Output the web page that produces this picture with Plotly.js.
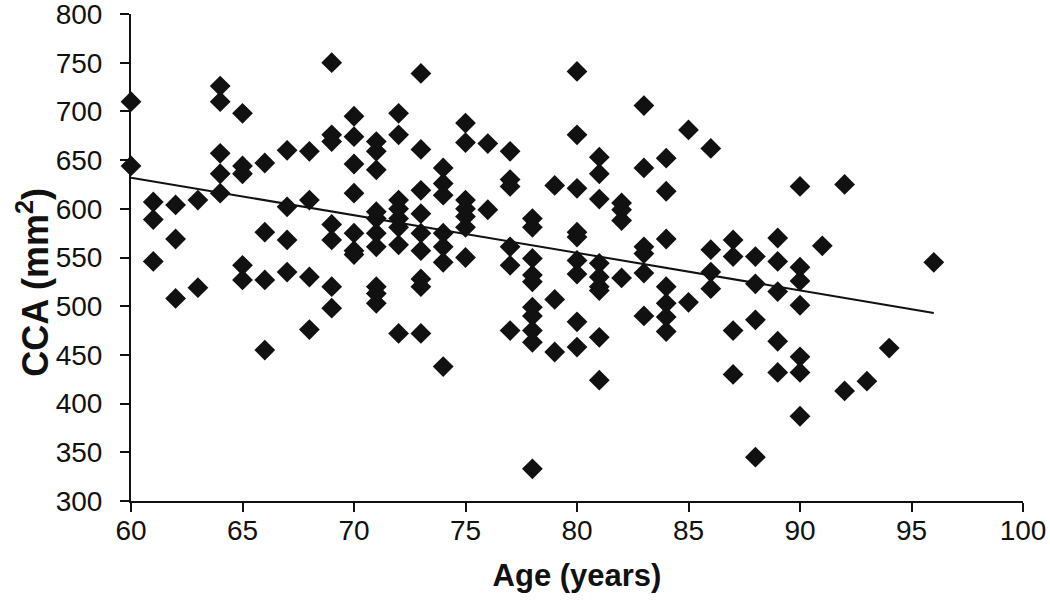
<!DOCTYPE html>
<html>
<head>
<meta charset="utf-8">
<script src="https://cdn.plot.ly/plotly-3.0.1.min.js"></script>
<style>
  body { margin: 0; background: #fff; }
  #chart { width: 1050px; height: 602px; }
</style>
</head>
<body>
<div id="chart"></div>
<script>
// CCA values, grouped by age (years)
const ages = [60, 61, 62, 63, 64, 65, 66, 67, 68, 69, 70, 71, 72, 73, 74, 75, 76, 77, 78, 79,
              80, 81, 82, 83, 84, 85, 86, 87, 88, 89, 90, 91, 92, 93, 94, 96];
const ccaByAge = [
    [710, 644],
    [607, 589, 546],
    [604, 569, 508],
    [609, 519],
    [726, 710, 657, 636, 616],
    [698, 644, 636, 542, 527],
    [647, 576, 527, 455],
    [660, 602, 568, 535],
    [659, 609, 530, 476],
    [750, 676, 669, 584, 568, 520, 498],
    [695, 674, 646, 616, 575, 557, 553],
    [669, 659, 640, 597, 590, 575, 561, 520, 513, 503],
    [698, 676, 609, 600, 590, 581, 563, 472],
    [739, 661, 619, 595, 575, 557, 528, 520, 472],
    [642, 626, 614, 575, 561, 545, 438],
    [688, 668, 609, 600, 592, 581, 550],
    [667, 599],
    [659, 630, 623, 561, 542, 475],
    [590, 581, 549, 532, 525, 499, 490, 475, 463, 333],
    [624, 507, 453],
    [741, 676, 621, 576, 571, 547, 533, 484, 458],
    [653, 636, 610, 544, 530, 520, 516, 468, 424],
    [606, 599, 588, 529],
    [706, 642, 561, 554, 534, 490],
    [652, 618, 569, 520, 503, 489, 474],
    [681, 504],
    [662, 558, 535, 518],
    [568, 551, 475, 430],
    [551, 523, 486, 345],
    [570, 546, 515, 464, 432],
    [623, 540, 526, 501, 448, 432, 387],
    [562],
    [625, 413],
    [423],
    [457],
    [545]
];

// linear trend line ends
const trendX = [60, 96];
const trendY = [632, 493];

// axis ticks
const xTicks = [60, 65, 70, 75, 80, 85, 90, 95, 100];
const yTicks = [300, 350, 400, 450, 500, 550, 600, 650, 700, 750, 800];

// flatten the groups into point lists
let x = [];
let y = [];
for (let i = 0; i < ages.length; i++) {
    for (let j = 0; j < ccaByAge[i].length; j++) {
        x.push(ages[i]);
        y.push(ccaByAge[i][j]);
    }
}

var points = {
    x: x,
    y: y,
    mode: 'markers',
    type: 'scatter',
    marker: { symbol: 'diamond', size: 16, color: '#111111' },
    cliponaxis: false,
    hoverinfo: 'x+y'
};

var trend = {
    x: trendX,
    y: trendY,
    mode: 'lines',
    type: 'scatter',
    line: { color: '#111111', width: 2 },
    hoverinfo: 'skip'
};

var fontFamily = 'Liberation Sans, Arial, sans-serif';
var tickFont = { family: fontFamily, size: 28, color: '#111111' };

var layout = {
    width: 1050,
    height: 602,
    showlegend: false,
    paper_bgcolor: '#ffffff',
    plot_bgcolor: '#ffffff',
    margin: { l: 131, r: 27, t: 14, b: 101, pad: 0 },
    xaxis: {
        range: [60, 100],
        tickvals: xTicks,
        showgrid: false,
        zeroline: false,
        showline: true,
        linecolor: '#111111',
        linewidth: 2,
        ticks: 'outside',
        ticklen: 9,
        tickwidth: 2,
        tickcolor: '#111111',
        ticklabelstandoff: -6,
        ticklabeloverflow: 'allow',
        tickfont: tickFont,
        title: { text: '<b>Age (years)</b>', font: { family: fontFamily, size: 31, color: '#111111' }, standoff: 20 }
    },
    yaxis: {
        range: [300, 800],
        tickvals: yTicks,
        showgrid: false,
        zeroline: false,
        showline: true,
        linecolor: '#111111',
        linewidth: 2,
        ticks: 'outside',
        ticklen: 9,
        tickwidth: 2,
        tickcolor: '#111111',
        ticklabelstandoff: 12,
        ticklabeloverflow: 'allow',
        tickfont: tickFont
    },
    // y title as an annotation so it can sit where the reference puts it
    annotations: [{
        text: '<b>CCA (mm<sup>2</sup>)</b>',
        textangle: -90,
        xref: 'paper',
        yref: 'paper',
        x: -0.11,
        y: 0.45,
        xanchor: 'center',
        yanchor: 'middle',
        showarrow: false,
        font: { family: fontFamily, size: 36, color: '#111111' }
    }]
};

Plotly.newPlot('chart', [points, trend], layout, { displayModeBar: false, staticPlot: true });
</script>
</body>
</html>
